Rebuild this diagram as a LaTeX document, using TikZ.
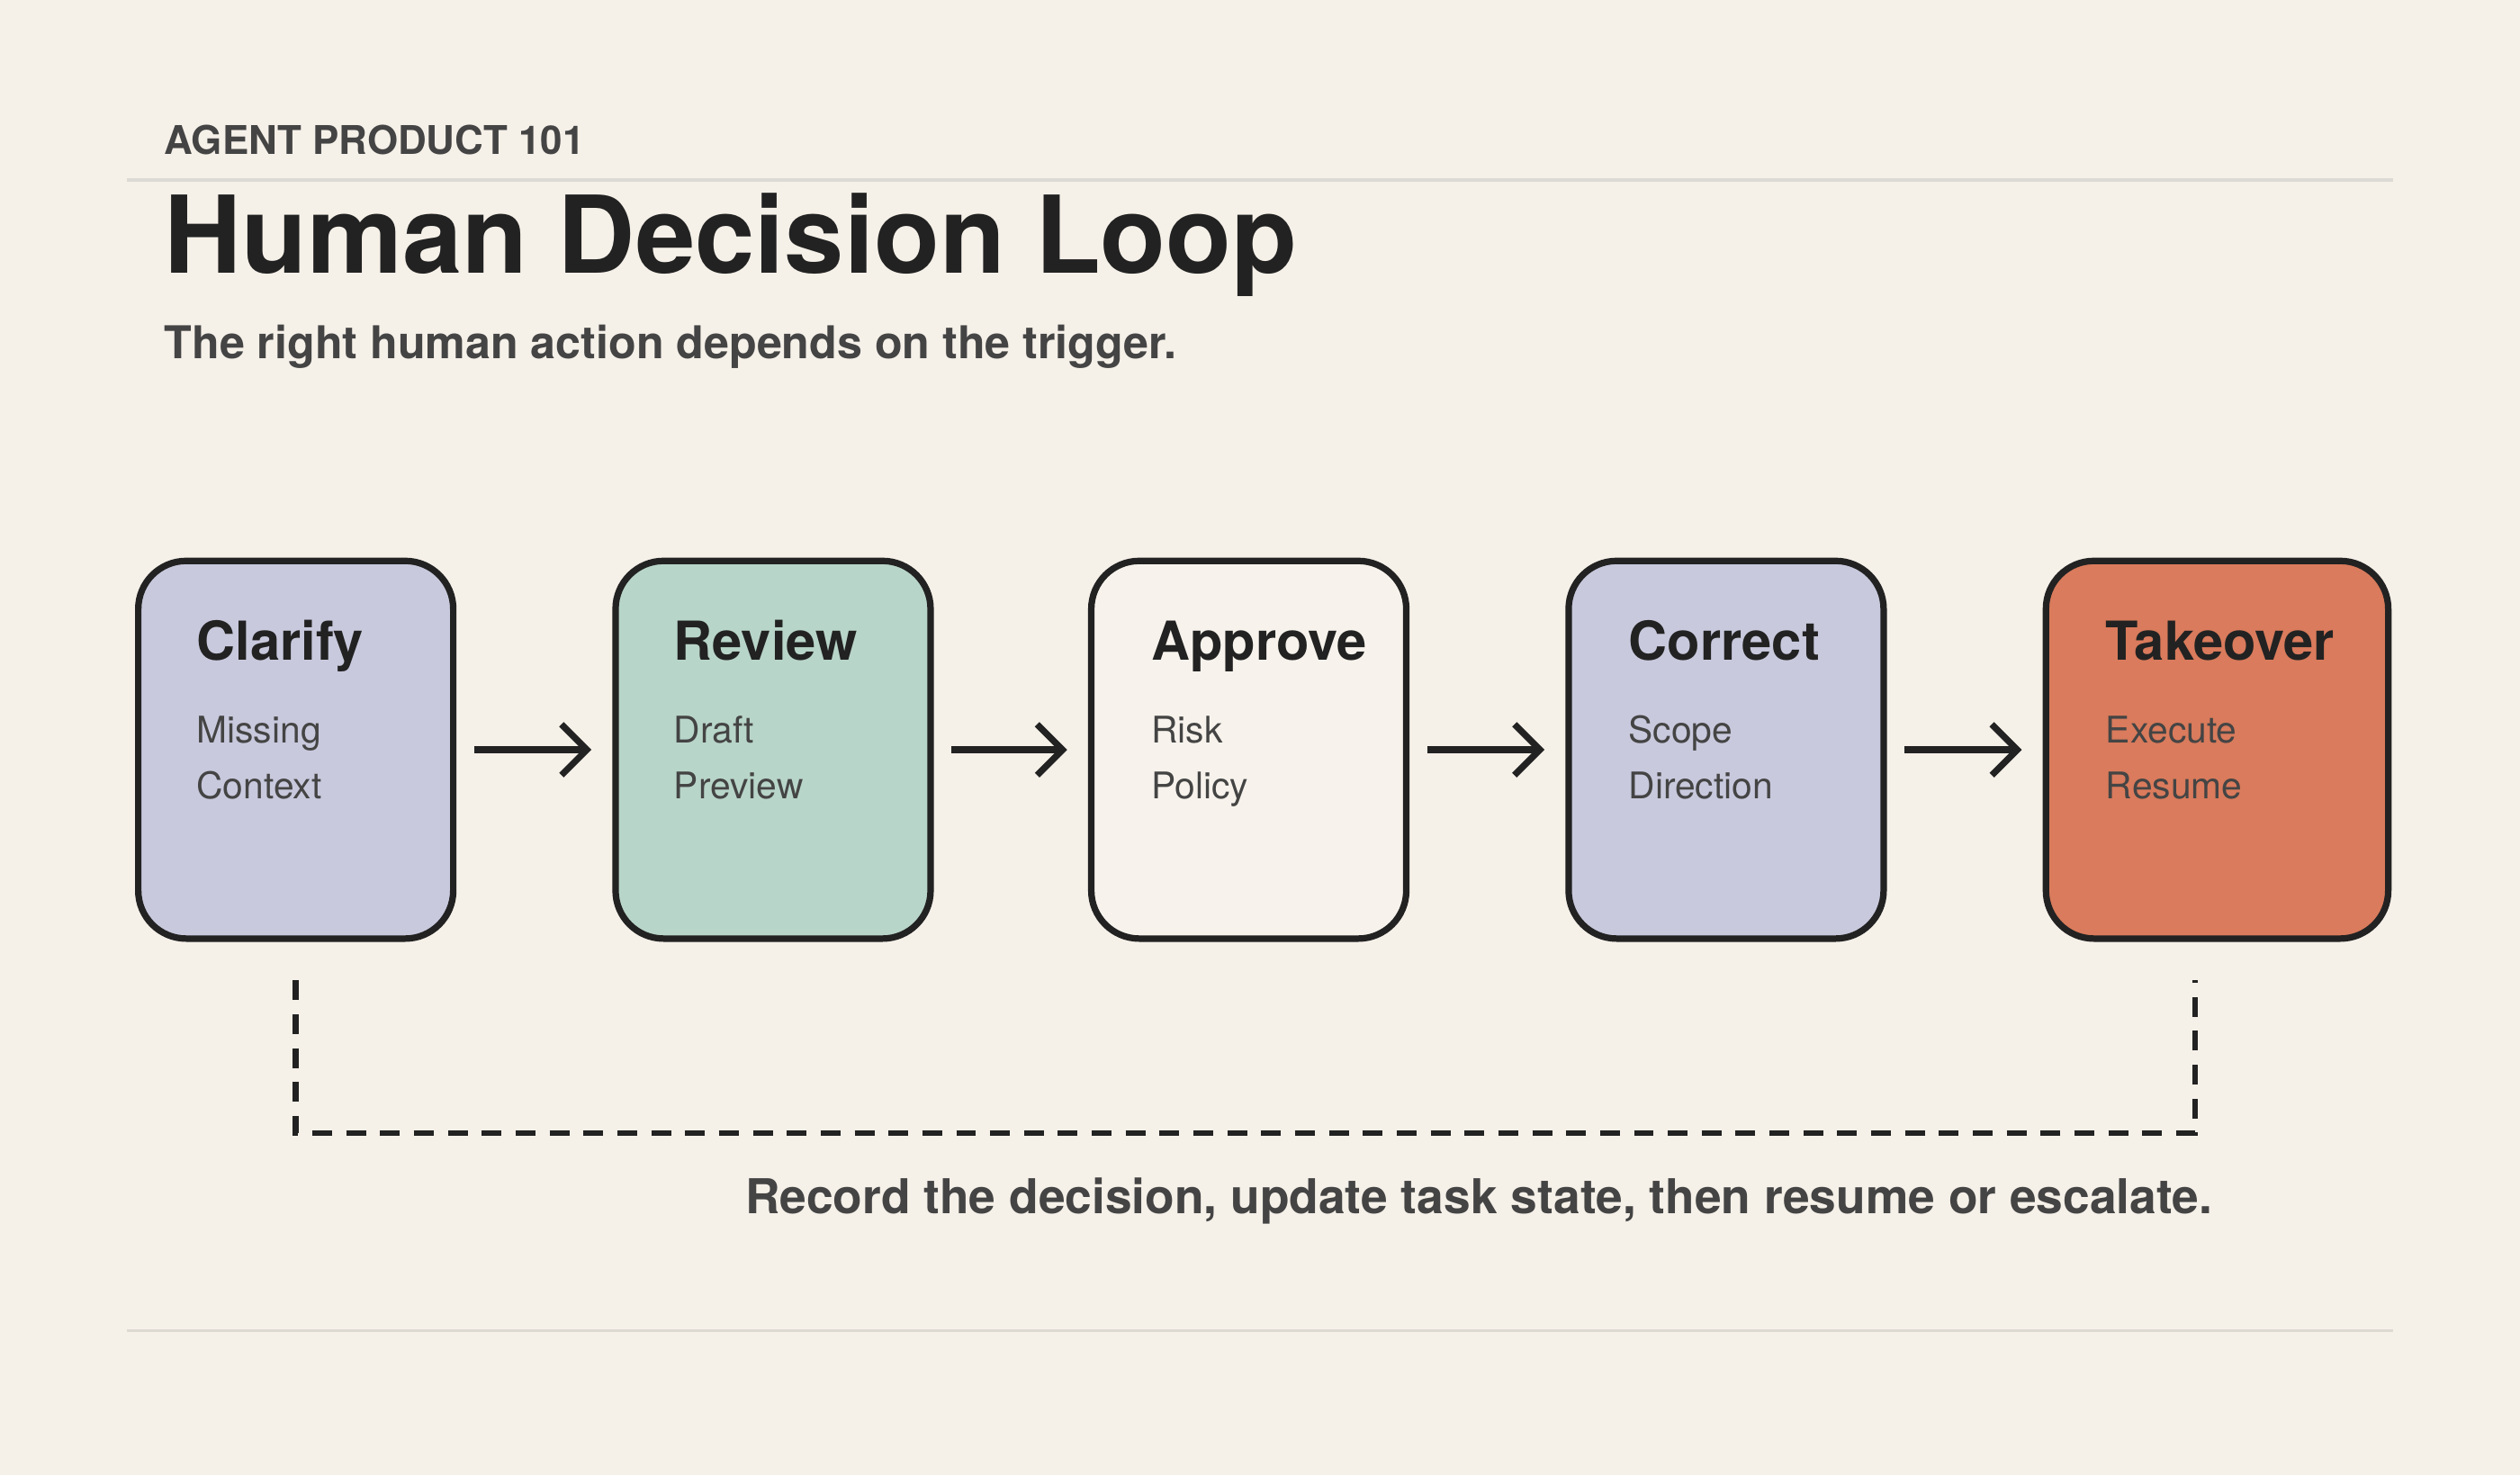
\documentclass[tikz,border=0pt]{standalone}
\usepackage{fontspec}
\setmainfont{TeX Gyre Heros}
\usetikzlibrary{arrows.meta}
\definecolor{bg}{HTML}{F5F0E8}
\definecolor{ink}{HTML}{222222}
\definecolor{gray}{HTML}{444444}
\definecolor{rule}{HTML}{DDDAD4}
\definecolor{lav}{HTML}{C8C9DD}
\definecolor{mint}{HTML}{B8D5C9}
\definecolor{cream}{HTML}{F7F3EC}
\definecolor{coral}{HTML}{D97B5C}
\tikzset{
 card/.style={draw=ink,line width=2.3pt,rounded corners=17pt,anchor=north west,minimum height=235*0.02cm},
 ttl/.style={anchor=base west,font=\fontsize{19}{22}\selectfont\bfseries,text=ink,inner sep=0},
 body/.style={anchor=base west,font=\fontsize{13}{16}\selectfont,text=gray,inner sep=0},
 flow/.style={draw=ink,line width=2.3pt,-{Straight Barb[length=9pt,width=18pt,line width=2.3pt]}},
 loop/.style={draw=ink,line width=2pt,dash pattern=on 7pt off 5pt}
}
\begin{document}
\begin{tikzpicture}[x=0.02cm,y=-0.02cm]
\fill[bg] (0,0) rectangle (1568,918);
\useasboundingbox (0,0) rectangle (1568,918);
\draw[rule,line width=1pt] (79,112) -- (1489,112);
\draw[rule,line width=1pt] (79,828) -- (1489,828);
\node[anchor=base west,inner sep=0,text=gray,font=\fontsize{14}{16}\selectfont\bfseries] (kick) at (102,96) {AGENT PRODUCT 101};
\node[anchor=base west,inner sep=0,text=ink,font=\fontsize{38}{42}\selectfont\bfseries] (title) at (102,170) {Human Decision Loop};
\node[anchor=base west,inner sep=0,text=gray,font=\fontsize{16}{18}\selectfont\bfseries] (sub) at (102,223) {The right human action depends on the trigger.};
\node[card,fill=lav,minimum width=196*0.02cm] (b1) at (84,347) {};
\node[card,fill=mint,minimum width=196*0.02cm] (b2) at (381,347) {};
\node[card,fill=cream,minimum width=196*0.02cm] (b3) at (677,347) {};
\node[card,fill=lav,minimum width=196*0.02cm] (b4) at (974,347) {};
\node[card,fill=coral,minimum width=213*0.02cm] (b5) at (1271,347) {};
\foreach \n/\x/\t/\a/\b in {1/122/Clarify/Missing/Context,2/419/Review/Draft/Preview,3/716/Approve/Risk/Policy,4/1013/Correct/Scope/Direction,5/1310/Takeover/Execute/Resume}{
 \node[ttl] (t\n) at (\x,411) {\t};
 \node[body] (a\n) at (\x,462) {\a};
 \node[body] (c\n) at (\x,497) {\b};
}
\foreach \i/\j in {1/2,2/3,3/4,4/5}{
 \draw[flow] ([xshift=11*0.02cm]b\i.east) -- ([xshift=-13*0.02cm]b\j.west);
}
\coordinate (l1) at (184,610);
\coordinate (l2) at (1366,610);
\draw[loop] (l1) -- (184,705) -- (1366,705) -- (l2);
\node[anchor=base east,inner sep=0,text=gray,font=\fontsize{17}{20}\selectfont\bfseries] (cap) at (1377,755) {Record the decision, update task state, then resume or escalate.};
\end{tikzpicture}
\end{document}
